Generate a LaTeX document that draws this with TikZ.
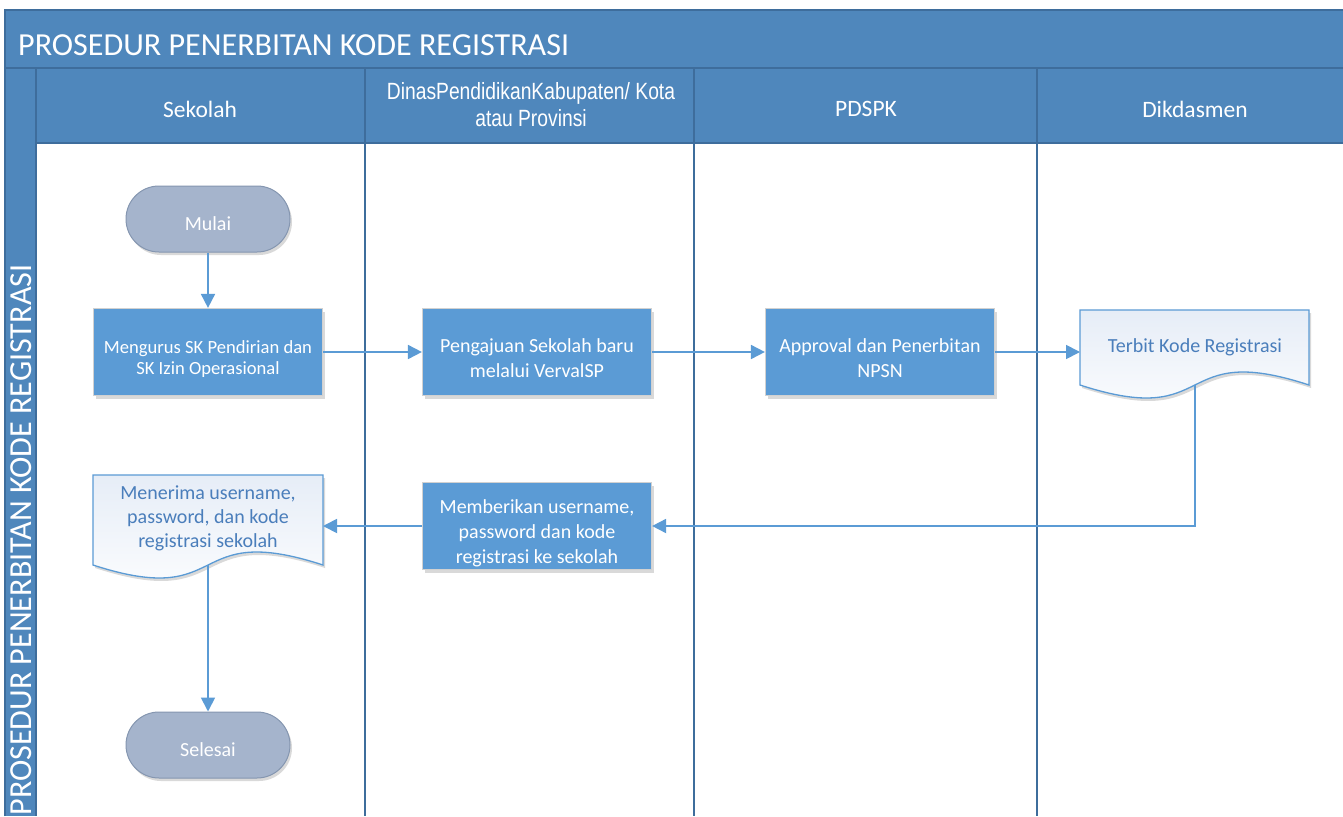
\documentclass[tikz,border=0pt]{standalone}
\usepackage{fontspec}
\setmainfont{Carlito}
\newfontfamily\narrowfont[FakeStretch=0.82]{Liberation Sans}
\usetikzlibrary{arrows.meta,shadows}

\definecolor{hdr}{HTML}{4F87BC}
\definecolor{hdrline}{HTML}{3E6D9C}
\definecolor{proc}{HTML}{5B9BD5}
\definecolor{term}{HTML}{A5B4CC}
\definecolor{termline}{HTML}{8596B0}
\definecolor{doctxt}{HTML}{4A7EBB}
\definecolor{docfill}{HTML}{E6EDF7}

\begin{document}
\begin{tikzpicture}[x=1pt,y=-1pt,
  softshadow/.style={drop shadow={fill=black,opacity=0.15,shadow xshift=2pt,shadow yshift=-3pt}},
  procbox/.style={draw=black!18, line width=1.2pt, fill=proc,
    minimum width=229pt, minimum height=87pt, inner sep=0pt, softshadow},
  termbox/.style={draw=termline, line width=1pt, fill=term,
    rounded corners=33pt, minimum width=164pt, minimum height=66pt, inner sep=0pt, softshadow},
  boxtext/.style={text=white, align=center, inner sep=0pt,
    font=\fontsize{20}{25}\selectfont},
  doclabel/.style={text=doctxt, align=center, inner sep=0pt,
    font=\fontsize{20}{24}\selectfont},
  docline/.style={draw=proc, line width=1.3pt, top color=docfill, bottom color=white},
  lanehead/.style={text=white, font=\fontsize{23.5}{27}\selectfont, align=center},
  frameline/.style={draw=hdrline, line width=1.6pt},
  flow/.style={draw=proc, line width=1.8pt, -{Triangle[length=14pt,width=14pt]}}
]
\useasboundingbox (0,0) rectangle (1343,816);
\fill[white] (0,0) rectangle (1343,816);

% pool: title band and label band
\fill[hdr] (5,10) rectangle (1343,68);
\fill[hdr] (5,68) rectangle (36,816);
% lane headers
\fill[hdr] (36,68) rectangle (1343,143);
\path[frameline] (5,816) -- (5,10) -- (1343,10);
\path[frameline] (5,68) -- (1343,68);
\path[frameline] (36,143) -- (1343,143);
\foreach \lx in {36,365,694,1037}
  \path[frameline] (\lx,68) -- (\lx,816);

\node[anchor=west, text=white, font=\fontsize{32.1}{36}\selectfont, inner sep=0pt]
  (pooltitle) at (18,45) {PROSEDUR PENERBITAN KODE REGISTRASI};
\node[rotate=90, text=white, font=\fontsize{32.1}{36}\selectfont, inner sep=0pt]
  (poolside) at (21,540) {PROSEDUR PENERBITAN KODE REGISTRASI};

\node[lanehead] (h1) at (200,109) {Sekolah};
\node[lanehead, font=\narrowfont\fontsize{23.5}{27}\selectfont] (h2) at (531,105)
  {DinasPendidikanKabupaten/ Kota\\atau Provinsi};
\node[lanehead] (h3) at (866,109) {PDSPK};
\node[lanehead] (h4) at (1195,109) {Dikdasmen};

% flow elements
\node[termbox] (mulai) at (208,219) {};
\node[boxtext] (mulai-t) at ([yshift=-5pt]mulai.center) {Mulai};

\node[procbox] (sk) at (208,352) {};
\node[boxtext, font=\fontsize{18.6}{21}\selectfont] (sk-t) at ([yshift=-7pt]sk.center)
  {Mengurus SK Pendirian dan\\SK Izin Operasional};

\node[procbox] (ajuan) at (537,352) {};
\node[boxtext] (ajuan-t) at ([yshift=-6pt]ajuan.center)
  {Pengajuan Sekolah baru\\melalui VervalSP};

\node[procbox] (npsn) at (880,352) {};
\node[boxtext] (npsn-t) at ([yshift=-6pt]npsn.center)
  {Approval dan Penerbitan\\NPSN};

\node[procbox] (beri) at (537,526) {};
\node[boxtext] (beri-t) at ([yshift=-7pt]beri.center)
  {Memberikan username,\\password dan kode\\registrasi ke sekolah};

\node[termbox] (selesai) at (208,745) {};
\node[boxtext] (selesai-t) at ([yshift=-5pt]selesai.center) {Selesai};

% document shapes with wavy lower edge
\path[docline, softshadow] (1080,385) -- (1080,310) -- (1309,310) -- (1309,385)
  .. controls (1172,340) and (1218,430) .. (1080,385) -- cycle;
\node[doclabel] (kode) at (1195,347) {Terbit Kode Registrasi};
\coordinate (kodeout) at (1195,385);
\coordinate (kodein) at (1080,352);

\path[docline, softshadow] (93,565) -- (93,475) -- (323,475) -- (323,565)
  .. controls (185,520) and (231,610) .. (93,565) -- cycle;
\node[doclabel] (terima) at (208,518)
  {Menerima username,\\password, dan kode\\registrasi sekolah};
\coordinate (terimaout) at (208,565);
\coordinate (terimain) at (323,526);

% connectors
\path[flow] (mulai) -- (sk);
\path[flow] (sk) -- (ajuan);
\path[flow] (ajuan) -- (npsn);
\path[flow] (npsn.east) -- (kodein);
\path[flow] (kodeout) |- (beri.east);
\path[flow] (beri.west) -- (terimain);
\path[flow] (terimaout) -- (selesai.north);
\end{tikzpicture}
\end{document}
